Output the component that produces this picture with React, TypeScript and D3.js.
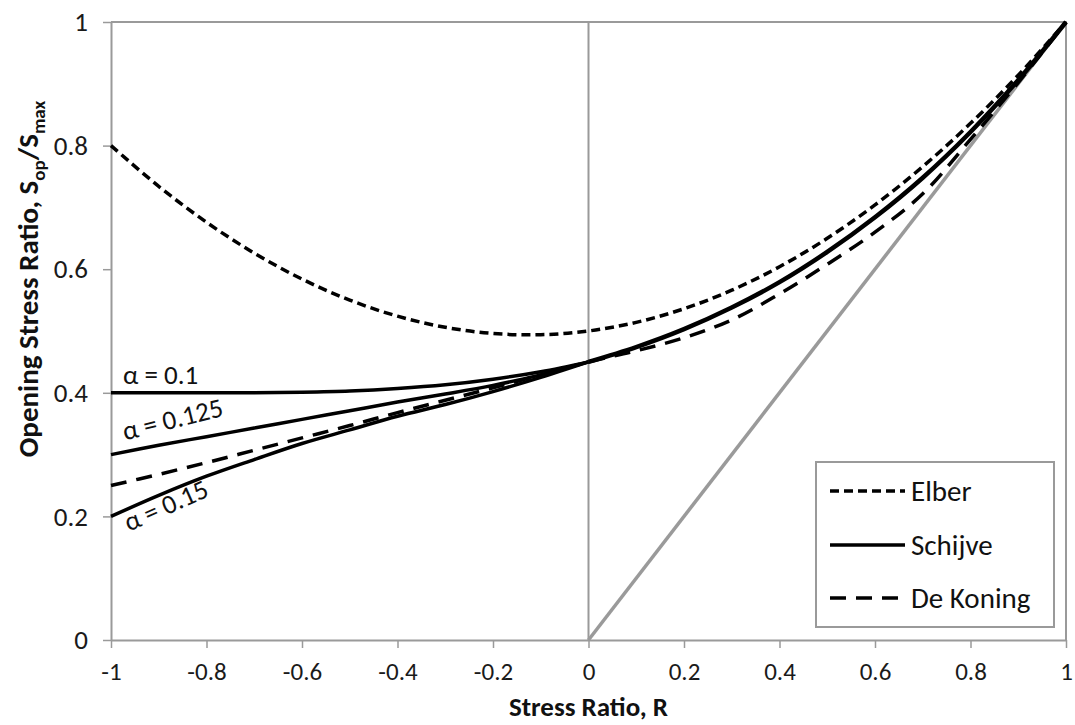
import { useEffect, useRef } from 'react';
import * as d3 from 'd3';

// Stress ratio grid (R) used by every curve
const rNeg = [-1, -0.9, -0.8, -0.7, -0.6, -0.5, -0.4, -0.3, -0.2, -0.1, 0];
const rPos = [0, 0.1, 0.2, 0.3, 0.4, 0.5, 0.6, 0.7, 0.8, 0.9, 1];
const rAll = [-1, -0.9, -0.8, -0.7, -0.6, -0.5, -0.4, -0.3, -0.2, -0.1, 0, 0.1, 0.2, 0.3, 0.4, 0.5, 0.6, 0.7, 0.8, 0.9, 1];

// Elber, full range
const elber = [0.8, 0.734, 0.676, 0.626, 0.584, 0.55, 0.524, 0.506, 0.496, 0.494, 0.5, 0.514, 0.536, 0.566, 0.604, 0.65, 0.704, 0.766, 0.836, 0.914, 1.0];

// Schijve, R >= 0 (shared by all alpha)
const schijvePos = [0.45, 0.474, 0.503, 0.538, 0.579, 0.628, 0.684, 0.748, 0.822, 0.906, 1.0];
// Schijve, R < 0, per alpha
const alpha010 = [0.4, 0.4, 0.4, 0.4, 0.401, 0.403, 0.407, 0.413, 0.422, 0.434, 0.45];
const alpha0125 = [0.3, 0.315, 0.329, 0.343, 0.357, 0.371, 0.385, 0.398, 0.412, 0.429, 0.45];
const alpha015 = [0.2, 0.234, 0.265, 0.292, 0.318, 0.34, 0.362, 0.381, 0.402, 0.425, 0.45];

// De Koning
const deKoningNeg = [0.25, 0.268, 0.287, 0.307, 0.327, 0.347, 0.368, 0.388, 0.408, 0.429, 0.45];
const deKoningPos = [0.45, 0.468, 0.489, 0.518, 0.56, 0.608, 0.66, 0.722, 0.81, 0.902, 1.0];

// R = Sop/Smax reference line
const diagR = [0, 1];

const xTicks = [-1, -0.8, -0.6, -0.4, -0.2, 0, 0.2, 0.4, 0.6, 0.8, 1];
const yTicks = [0, 0.2, 0.4, 0.6, 0.8, 1];

const alphaLabels = ['α = 0.1', 'α = 0.125', 'α = 0.15'];
const legendNames = ['Elber', 'Schijve', 'De Koning'];

const FONT = 'Carlito, Lato, "Open Sans", sans-serif';
const GRAY = '#9a9a9a';

type Pt = [number, number];
const zip = (xs: number[], ys: number[]): Pt[] => xs.map((x, i) => [x, ys[i]]);

export default function App() {
  const svgRef = useRef<SVGSVGElement>(null);

  useEffect(() => {
    if (!svgRef.current) return;
    const width = 1075;
    const height = 725;
    const m = { left: 111, right: 9, top: 22, bottom: 85 };

    const svg = d3.select(svgRef.current);
    svg.selectAll('*').remove();

    const x = d3.scaleLinear().domain([-1, 1]).range([m.left, width - m.right]);
    const y = d3.scaleLinear().domain([0, 1]).range([height - m.bottom, m.top]);

    // frame (top + right)
    svg.append('path')
      .attr('d', `M${x(-1)},${y(1)}H${x(1)}V${y(0)}`)
      .attr('fill', 'none')
      .attr('stroke', GRAY)
      .attr('stroke-width', 2);

    // axes
    const xAxis = svg.append('g')
      .attr('transform', `translate(0,${y(0)})`)
      .call(d3.axisBottom(x).tickValues(xTicks).tickSize(8).tickSizeOuter(0).tickFormat((d: any) => String(d)));
    const yAxis = svg.append('g')
      .attr('transform', `translate(${x(-1)},0)`)
      .call(d3.axisLeft(y).tickValues(yTicks).tickSize(8).tickSizeOuter(0).tickFormat((d: any) => String(d)));

    [xAxis, yAxis].forEach(g => {
      g.select('.domain').attr('stroke', GRAY).attr('stroke-width', 2);
      g.selectAll('.tick line').attr('stroke', GRAY).attr('stroke-width', 1.5);
      g.selectAll('.tick text')
        .attr('fill', '#1a1a1a')
        .attr('font-family', FONT)
        .attr('font-size', 25);
    });
    xAxis.selectAll('.tick text').attr('dy', '1.15em');
    yAxis.selectAll('.tick text').attr('x', -23).attr('font-size', 27);

    // vertical line at R = 0
    svg.append('line')
      .attr('x1', x(0)).attr('x2', x(0))
      .attr('y1', y(0)).attr('y2', y(1))
      .attr('stroke', GRAY).attr('stroke-width', 2);

    // diagonal R line
    svg.append('line')
      .attr('x1', x(diagR[0])).attr('y1', y(diagR[0]))
      .attr('x2', x(diagR[1])).attr('y2', y(diagR[1]))
      .attr('stroke', GRAY).attr('stroke-width', 3.5);

    const line = d3.line<Pt>()
      .x(d => x(d[0]))
      .y(d => y(d[1]))
      .curve(d3.curveCatmullRom.alpha(0.5));

    const draw = (pts: Pt[], dash: string | null, w = 3.5) => {
      svg.append('path')
        .attr('d', line(pts) as string)
        .attr('fill', 'none')
        .attr('stroke', '#000')
        .attr('stroke-width', w)
        .attr('stroke-dasharray', dash);
    };

    // Elber
    draw(zip(rAll, elber), '9,5');
    // De Koning
    draw(zip(rNeg, deKoningNeg).concat(zip(rPos, deKoningPos).slice(1)), '16,10');
    // Schijve
    [alpha010, alpha0125, alpha015].forEach(a => draw(zip(rNeg, a), null, 3.5));
    draw(zip(rPos, schijvePos), null, 4.5);

    // alpha labels
    const lab = svg.append('g')
      .attr('font-family', FONT)
      .attr('font-size', 27)
      .attr('fill', '#111');
    lab.append('text').attr('x', x(-1) + 12).attr('y', y(0.415)).text(alphaLabels[0]);
    lab.append('text')
      .attr('transform', `translate(${x(-1) + 14},${y(0.323)}) rotate(-14)`)
      .text(alphaLabels[1]);
    lab.append('text')
      .attr('transform', `translate(${x(-1) + 18},${y(0.175)}) rotate(-24)`)
      .text(alphaLabels[2]);

    // axis titles
    svg.append('text')
      .attr('x', x(0))
      .attr('y', height - 9)
      .attr('text-anchor', 'middle')
      .attr('font-family', FONT)
      .attr('font-size', 27)
      .attr('font-weight', 800)
      .attr('fill', '#111')
      .text('Stress Ratio, R');

    const yt = svg.append('text')
      .attr('transform', `translate(38,${(y(0) + y(1)) / 2 - 52}) rotate(-90)`)
      .attr('text-anchor', 'middle')
      .attr('font-family', FONT)
      .attr('font-size', 29)
      .attr('font-weight', 800)
      .attr('fill', '#111');
    yt.append('tspan').text('Opening  Stress Ratio, S');
    yt.append('tspan').attr('font-size', 19).attr('dy', 7).text('op');
    yt.append('tspan').attr('dy', -7).text('/S');
    yt.append('tspan').attr('font-size', 19).attr('dy', 7).text('max');

    // legend
    const lg = svg.append('g').attr('transform', 'translate(816,462)');
    lg.append('rect')
      .attr('width', 238).attr('height', 165)
      .attr('fill', '#fff')
      .attr('stroke', GRAY).attr('stroke-width', 2);
    const dashes = ['9,5', null, '16,10'];
    const rowY = [29, 83, 136];
    legendNames.forEach((name, i) => {
      lg.append('line')
        .attr('x1', 14).attr('x2', 89)
        .attr('y1', rowY[i]).attr('y2', rowY[i])
        .attr('stroke', '#000').attr('stroke-width', 3.5)
        .attr('stroke-dasharray', dashes[i]);
      lg.append('text')
        .attr('x', 95).attr('y', rowY[i] + 10)
        .attr('font-family', FONT)
        .attr('font-size', 29)
        .attr('fill', '#111')
        .text(name);
    });
  }, []);

  return (
    <svg
      ref={svgRef}
      width={1075}
      height={725}
      style={{ display: 'block', position: 'absolute', left: 0, top: 0, background: '#fff' }}
    />
  );
}
